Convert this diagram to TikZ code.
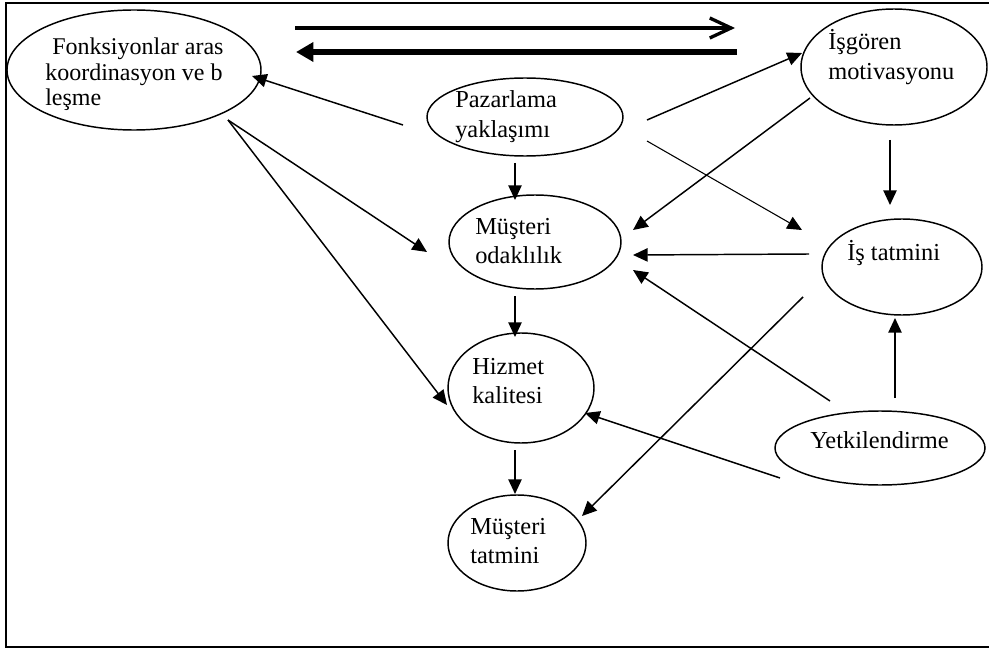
\documentclass[tikz,border=0pt]{standalone}
\usepackage{fontspec}
\setmainfont{Liberation Serif}
\usetikzlibrary{shapes.geometric,arrows.meta}
\begin{document}
\begin{tikzpicture}[x=0.75pt,y=-0.75pt,
  ell/.style={draw,ellipse,line width=1.1pt,inner sep=0pt},
  txt/.style={inner sep=0pt,anchor=base west,font=\fontsize{18.3pt}{22pt}\selectfont},
  arr/.style={line width=1.1pt,-{Triangle[length=11pt,width=10pt]}},
  framestyle/.style={line width=1.2pt}]
\useasboundingbox (0,0) rectangle (989,649);
\draw[framestyle] (989,3) -- (6,3) -- (6,647) -- (989,647);

% ellipses
\node[ell,minimum width=190.5pt,minimum height=90pt] (A) at (134,70) {};
\node[ell,minimum width=147pt,minimum height=58.5pt] (B) at (525,117) {};
\node[ell,minimum width=139.5pt,minimum height=87pt] (C) at (894,67) {};
\node[ell,minimum width=129pt,minimum height=70.5pt] (D) at (535,242) {};
\node[ell,minimum width=120pt,minimum height=72pt] (E) at (902,267) {};
\node[ell,minimum width=109.5pt,minimum height=82.5pt] (F) at (521,388) {};
\node[ell,minimum width=157.5pt,minimum height=55.5pt] (G) at (880,448) {};
\node[ell,minimum width=103.5pt,minimum height=72pt] (H) at (517,543) {};

% texts
\begin{scope}
\clip (0,0) rectangle (222.5,649);
\node[txt,font=\fontsize{18pt}{19pt}\selectfont] (tA) at (45,55) {\begin{tabular}[t]{@{}l@{}}\hspace{5.25pt}Fonksiyonlar aras\\koordinasyon ve b\\leşme\end{tabular}};
\end{scope}
\node[txt] (tB) at (455,108) {\begin{tabular}[t]{@{}l@{}}Pazarlama\\yaklaşımı\end{tabular}};
\node[txt] (tC) at (828,50) {\begin{tabular}[t]{@{}l@{}}İşgören\\motivasyonu\end{tabular}};
\node[txt] (tD) at (475,234) {\begin{tabular}[t]{@{}l@{}}Müşteri\\odaklılık\end{tabular}};
\node[txt] (tE) at (847,260) {İş tatmini};
\node[txt] (tF) at (472,374) {\begin{tabular}[t]{@{}l@{}}Hizmet\\kalitesi\end{tabular}};
\node[txt] (tG) at (810,448) {Yetkilendirme};
\node[txt] (tH) at (470,534) {\begin{tabular}[t]{@{}l@{}}Müşteri\\tatmini\end{tabular}};

% top double arrows
\coordinate (r1) at (295,28); \coordinate (r2) at (735,28);
\coordinate (l1) at (737,52); \coordinate (l2) at (296,52);
\draw[line width=2.5pt,-{Straight Barb[length=16pt,width=15pt]}] (r1) -- (r2);
\draw[line width=4.2pt,-{Triangle[length=13pt,width=14pt]}] (l1) -- (l2);

% connectors
\draw[arr] ([shift={(-122,8)}]B.center) -- ([shift={(118,6)}]A.center);
\draw[arr] ([shift={(94,50)}]A.center) -- ([shift={(-108,10)}]D.center);
\draw[arr] ([shift={(94,50)}]A.center) -- ([shift={(-74,17)}]F.center);
\draw[arr] ([shift={(-10,46)}]B.center) -- ([shift={(-20,-42)}]D.center);
\draw[arr] ([shift={(122,3)}]B.center) -- ([shift={(-92,-14)}]C.center);
\draw[arr,line width=0.8pt] ([shift={(122,24)}]B.center) -- ([shift={(-100,-37)}]E.center);
\draw[arr] ([shift={(-84,31)}]C.center) -- ([shift={(98,-12)}]D.center);
\draw[arr] ([shift={(-4,73)}]C.center) -- ([shift={(-12,-62)}]E.center);
\draw[arr] ([shift={(-93,-13)}]E.center) -- ([shift={(98,13)}]D.center);
\draw[arr] ([shift={(-50,-47)}]G.center) -- ([shift={(98,28)}]D.center);
\draw[arr] ([shift={(-99,30)}]E.center) -- ([shift={(65,-27)}]H.center);
\draw[arr] ([shift={(15,-50)}]G.center) -- ([shift={(-7,51)}]E.center);
\draw[arr] ([shift={(-100,30)}]G.center) -- ([shift={(64,25)}]F.center);
\draw[arr] ([shift={(-20,54)}]D.center) -- ([shift={(-6,-51)}]F.center);
\draw[arr] ([shift={(-6,62)}]F.center) -- ([shift={(-2,-49)}]H.center);
\end{tikzpicture}
\end{document}
